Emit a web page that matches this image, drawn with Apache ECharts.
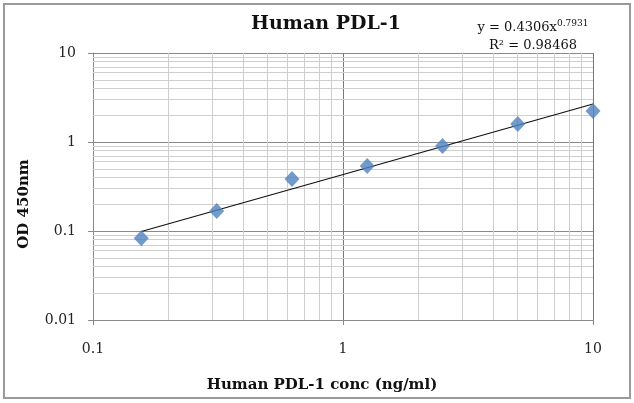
<!DOCTYPE html>
<html>
<head>
<meta charset="utf-8">
<script src="https://cdn.jsdelivr.net/npm/echarts@6/dist/echarts.min.js"></script>
<style>
  body { margin: 0; background: #fff; }
  #main { width: 634px; height: 403px; }
</style>
</head>
<body>
<div id="main"></div>
<script>
// standard curve points
var conc = [0.156, 0.3125, 0.625, 1.25, 2.5, 5, 10];
var od = [0.083, 0.168, 0.384, 0.537, 0.90, 1.59, 2.23];

// power trendline end points (y = 0.4306x^0.7931)
var trendX = [0.156, 10];
var trendY = [0.0987, 2.674];

// minor grid values (2..9 of each decade)
var xMinor = [0.2, 0.3, 0.4, 0.5, 0.6, 0.7, 0.8, 0.9, 2, 3, 4, 5, 6, 7, 8, 9];
var yMinor = [0.02, 0.03, 0.04, 0.05, 0.06, 0.07, 0.08, 0.09,
              0.2, 0.3, 0.4, 0.5, 0.6, 0.7, 0.8, 0.9,
              2, 3, 4, 5, 6, 7, 8, 9];

var serif = 'DejaVu Serif';

var chart = echarts.init(document.getElementById('main'));

var minorLines = [];
xMinor.forEach(function (v) { minorLines.push({ xAxis: v }); });
yMinor.forEach(function (v) { minorLines.push({ yAxis: v }); });

var option = {
  animation: false,
  grid: { left: 93, right: 41, top: 53, bottom: 83 },
  xAxis: {
    type: 'log',
    logBase: 10,
    min: 0.1,
    max: 10,
    axisLine: { lineStyle: { color: '#8a8a8a' } },
    axisTick: { show: true, length: 5, lineStyle: { color: '#8a8a8a' } },
    axisLabel: { margin: 22, fontFamily: serif, fontSize: 14, color: '#222' },
    splitLine: { show: true, lineStyle: { color: '#777', width: 1 } }
  },
  yAxis: {
    type: 'log',
    logBase: 10,
    min: 0.01,
    max: 10,
    axisLine: { show: true, lineStyle: { color: '#8a8a8a' } },
    axisTick: { show: true, length: 5, lineStyle: { color: '#8a8a8a' } },
    axisLabel: { margin: 17, fontFamily: serif, fontSize: 14, color: '#222' },
    splitLine: { show: true, lineStyle: { color: '#8a8a8a', width: 1 } }
  },
  series: [
    {
      // minor grid only
      type: 'line',
      data: [],
      z: 1,
      silent: true,
      markLine: {
        silent: true,
        symbol: ['none', 'none'],
        label: { show: false },
        lineStyle: { type: 'solid', color: '#cfcfcf', width: 1 },
        animation: false,
        z: 1,
        data: minorLines
      }
    },
    {
      type: 'line',
      data: trendX.map(function (x, i) { return [x, trendY[i]]; }),
      showSymbol: false,
      symbol: 'none',
      lineStyle: { color: '#111', width: 1.2 },
      z: 4
    },
    {
      type: 'scatter',
      data: conc.map(function (x, i) { return [x, od[i]]; }),
      symbol: 'diamond',
      symbolSize: [15, 16],
      itemStyle: { color: '#4f81bd' },
      z: 10
    }
  ],
  graphic: [
    {
      type: 'rect',
      shape: { x: 4, y: 4, width: 626, height: 394 },
      style: { fill: 'none', stroke: '#9a9a9a', lineWidth: 2 },
      silent: true
    },
    {
      type: 'text',
      x: 326, y: 24,
      style: {
        text: 'Human PDL-1',
        font: 'bold 19px "DejaVu Serif"',
        fill: '#111',
        align: 'center',
        verticalAlign: 'middle'
      }
    },
    {
      type: 'text',
      x: 533, y: 34,
      style: {
        text: '{t|y = 0.4306x}{s|0.7931}\n{t|R² = 0.98468}',
        align: 'center',
        verticalAlign: 'middle',
        fill: '#111',
        rich: {
          t: { font: '13px "DejaVu Serif"', fill: '#111', lineHeight: 18, verticalAlign: 'bottom' },
          s: { font: '9px "DejaVu Serif"', fill: '#111', lineHeight: 18, verticalAlign: 'bottom', padding: [0, 0, 6, 0] }
        }
      }
    },
    {
      type: 'text',
      x: 322, y: 385,
      style: {
        text: 'Human PDL-1 conc (ng/ml)',
        font: 'bold 15px "DejaVu Serif"',
        fill: '#111',
        align: 'center',
        verticalAlign: 'middle'
      }
    },
    {
      type: 'text',
      x: 24, y: 204,
      rotation: Math.PI / 2,
      style: {
        text: 'OD 450nm',
        font: 'bold 15px "DejaVu Serif"',
        fill: '#111',
        align: 'center',
        verticalAlign: 'middle'
      }
    }
  ]
};

chart.setOption(option);
</script>
</body>
</html>
